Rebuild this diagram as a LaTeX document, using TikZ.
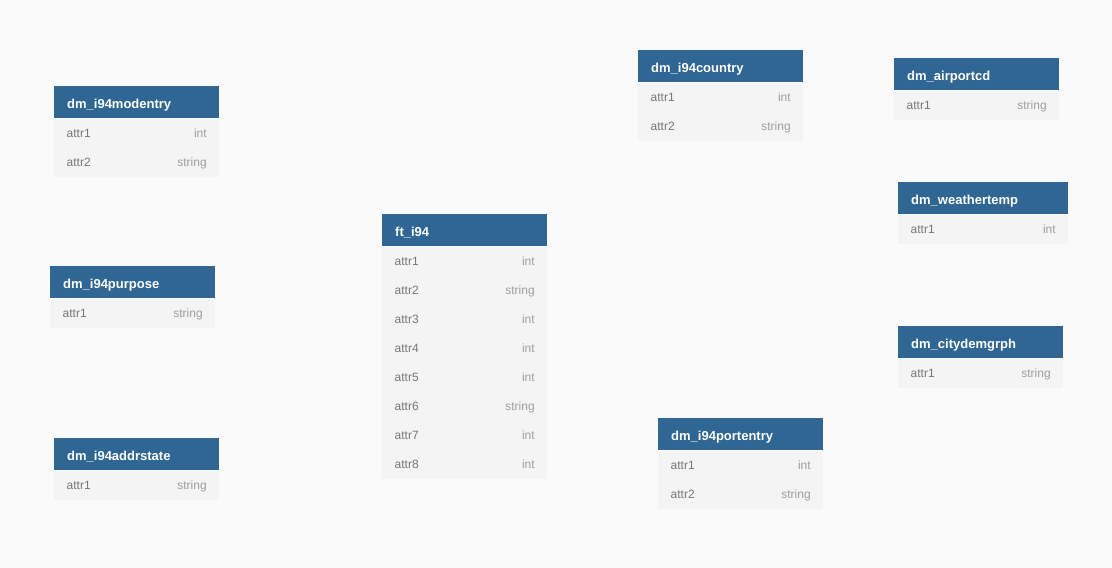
\documentclass[tikz,border=0pt]{standalone}
\usepackage{fontspec}
\setmainfont{Liberation Sans}
\usetikzlibrary{positioning}

\definecolor{hdrblue}{HTML}{2F6694}
\definecolor{rowbg}{HTML}{F4F4F4}
\definecolor{pagebg}{HTML}{FAFAFA}
\definecolor{attrgray}{HTML}{777777}
\definecolor{typegray}{HTML}{9E9E9E}
\newcommand{\typ}[1]{\hfill{\color{typegray}#1}}

\begin{document}
\begin{tikzpicture}[x=1pt, y=-1pt]

  % Styles
  \tikzset{
    tbl/.style={fill=hdrblue, text=white, anchor=north west, align=left,
      font=\bfseries\fontsize{13}{15}\selectfont,
      minimum height=32pt, inner xsep=13pt, inner ysep=0pt,
      text height=12.6pt, text depth=0pt, text width=#1},
    tbl/.default=139pt,
    row/.style={fill=rowbg, text=attrgray, anchor=north west, align=left,
      font=\fontsize{12}{14}\selectfont,
      minimum height=29pt, inner xsep=12.5pt, inner ysep=0pt,
      text height=8pt, text depth=0pt, text width=#1},
    row/.default=140pt
  }

  % Page
  \fill[pagebg] (0,0) rectangle (1112,568);
  \useasboundingbox (0,0) rectangle (1112,568);

  % dm_i94modentry
  \node[tbl] (modentry) at (54,86) {dm\_i94modentry};
  \foreach \a/\ty [count=\i] in {attr1/int, attr2/string}
    \node[row] (modentry-\i) at ([yshift={-(\i-1)*29pt}]modentry.south west) {\a\typ{\ty}};

  % dm_i94purpose
  \node[tbl] (purpose) at (50,266) {dm\_i94purpose};
  \node[row, below=0pt of purpose] (purpose-1) {attr1\typ{string}};

  % dm_i94addrstate
  \node[tbl] (addrstate) at (54,438) {dm\_i94addrstate};
  \node[row, below=0pt of addrstate] (addrstate-1) {attr1\typ{string}};

  % ft_i94
  \node[tbl] (fti94) at (382,214) {ft\_i94};
  \foreach \a/\ty [count=\i] in {attr1/int, attr2/string, attr3/int, attr4/int,
      attr5/int, attr6/string, attr7/int, attr8/int}
    \node[row] (fti94-\i) at ([yshift={-(\i-1)*29pt}]fti94.south west) {\a\typ{\ty}};

  % dm_i94country
  \node[tbl] (country) at (638,50) {dm\_i94country};
  \foreach \a/\ty [count=\i] in {attr1/int, attr2/string}
    \node[row] (country-\i) at ([yshift={-(\i-1)*29pt}]country.south west) {\a\typ{\ty}};

  % dm_airportcd
  \node[tbl] (airport) at (894,58) {dm\_airportcd};
  \node[row, below=0pt of airport] (airport-1) {attr1\typ{string}};

  % dm_weathertemp
  \node[tbl=144pt] (weather) at (898,182) {dm\_weathertemp};
  \node[row=145pt, below=0pt of weather] (weather-1) {attr1\typ{int}};

  % dm_citydemgrph
  \node[tbl] (citydem) at (898,326) {dm\_citydemgrph};
  \node[row, below=0pt of citydem] (citydem-1) {attr1\typ{string}};

  % dm_i94portentry
  \node[tbl] (portentry) at (658,418) {dm\_i94portentry};
  \foreach \a/\ty [count=\i] in {attr1/int, attr2/string}
    \node[row] (portentry-\i) at ([yshift={-(\i-1)*29pt}]portentry.south west) {\a\typ{\ty}};

\end{tikzpicture}
\end{document}
